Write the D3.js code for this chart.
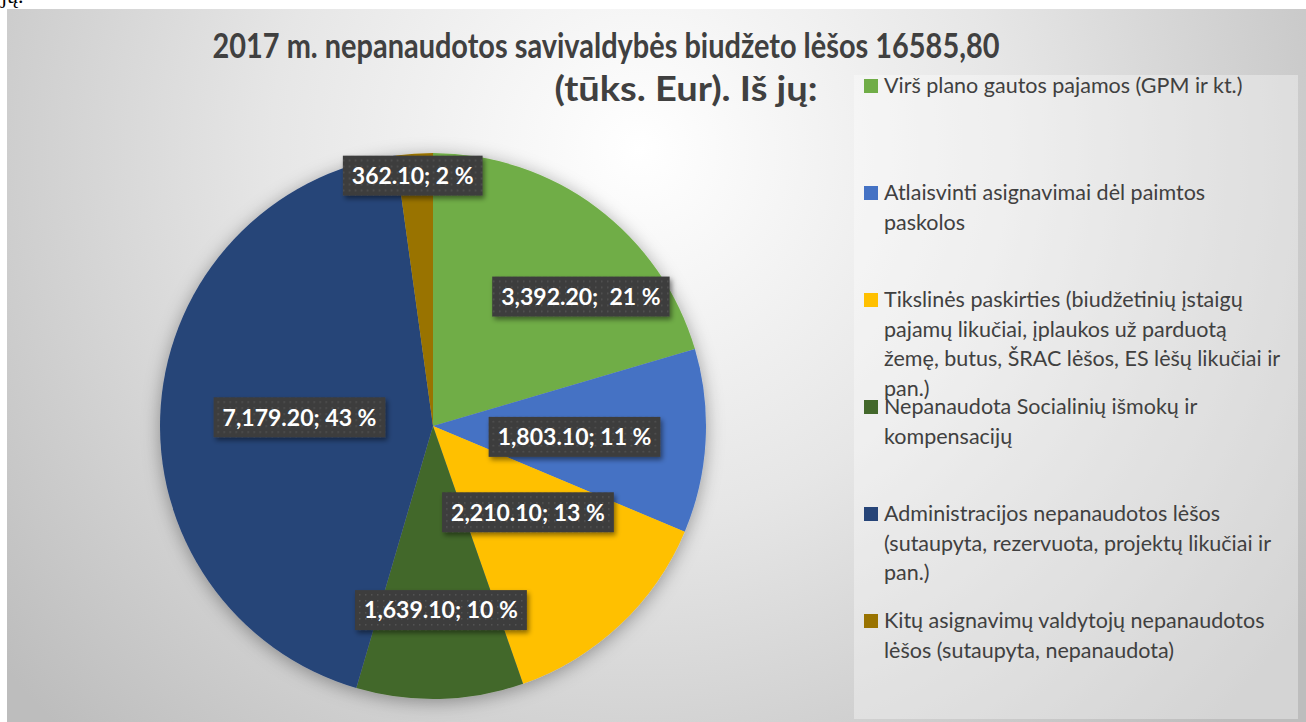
<!DOCTYPE html>
<html>
	<head>
		<script src="https://d3js.org/d3.v7.min.js"></script>
		<style>
			html, body {
				margin: 0;
				padding: 0;
				background: #fff;
				overflow: hidden;
			}
			text {
				font-family: Lato, "Open Sans", sans-serif;
			}
		</style>
		<title>2017 m. nepanaudotos lėšos</title>
	</head>
	<body>
		<div id="chart"></div>
		<script>
			// data
			const categories = [
				"Virš plano gautos pajamos (GPM ir kt.)",
				"Atlaisvinti asignavimai dėl paimtos paskolos",
				"Tikslinės paskirties (biudžetinių įstaigų pajamų likučiai, įplaukos už parduotą žemę, butus, ŠRAC lėšos, ES lėšų likučiai ir pan.)",
				"Nepanaudota Socialinių išmokų ir kompensacijų",
				"Administracijos nepanaudotos lėšos (sutaupyta, rezervuota, projektų likučiai ir pan.)",
				"Kitų asignavimų valdytojų nepanaudotos lėšos (sutaupyta, nepanaudota)",
			];
			const values = [3392.2, 1803.1, 2210.1, 1639.1, 7179.2, 362.1];
			// labels exactly as printed on the chart (the 21 % one was edited by hand)
			const dataLabels = [
				"3,392.20;  21 %",
				"1,803.10; 11 %",
				"2,210.10; 13 %",
				"1,639.10; 10 %",
				"7,179.20; 43 %",
				"362.10; 2 %",
			];
			// legend text as wrapped in the picture
			const legendLines = [
				["Virš plano gautos pajamos (GPM ir kt.)"],
				["Atlaisvinti asignavimai dėl paimtos", "paskolos"],
				["Tikslinės paskirties (biudžetinių įstaigų", "pajamų likučiai, įplaukos už parduotą", "žemę, butus, ŠRAC lėšos, ES lėšų likučiai ir", "pan.)"],
				["Nepanaudota Socialinių išmokų ir", "kompensacijų"],
				["Administracijos nepanaudotos lėšos", "(sutaupyta, rezervuota, projektų likučiai ir", "pan.)"],
				["Kitų asignavimų valdytojų nepanaudotos", "lėšos (sutaupyta, nepanaudota)"],
			];
			const titleLines = ["2017 m. nepanaudotos savivaldybės biudžeto lėšos 16585,80", "(tūks. Eur). Iš jų:"];
			const colors = ["#70AD47", "#4472C4", "#FFC000", "#43682B", "#264478", "#997300"];

			// layout
			const width = 1306,
				height = 722,
				cx = 433,
				cy = 426,
				radius = 273;
			// label placement: fraction of radius and angle nudge (deg) from slice middle
			const labelRadius = [0.72, 0.52, 0.47, 0.675, 0.49, 0.92];
			const labelNudge = [12, 1.2, -4.5, -1, -0.5, -0.7];

			const svg = d3.select("#chart")
				.append("svg")
				.attr("width", width)
				.attr("height", height);

			const defs = svg.append("defs");

			const bg = defs.append("radialGradient")
				.attr("id", "bg")
				.attr("gradientUnits", "userSpaceOnUse")
				.attr("cx", 640).attr("cy", 150).attr("r", 820);
			bg.append("stop").attr("offset", "0").attr("stop-color", "#ffffff");
			bg.append("stop").attr("offset", "0.45").attr("stop-color", "#e6e6e6");
			bg.append("stop").attr("offset", "1").attr("stop-color", "#bdbdbd");

			const shadow = defs.append("filter")
				.attr("id", "pieShadow")
				.attr("x", "-20%").attr("y", "-20%")
				.attr("width", "140%").attr("height", "140%");
			shadow.append("feDropShadow")
				.attr("dx", 0).attr("dy", 3)
				.attr("stdDeviation", 9)
				.attr("flood-color", "#000")
				.attr("flood-opacity", 0.35);

			const boxShadow = defs.append("filter")
				.attr("id", "boxShadow")
				.attr("x", "-20%").attr("y", "-30%")
				.attr("width", "140%").attr("height", "170%");
			boxShadow.append("feDropShadow")
				.attr("dx", 2).attr("dy", 3)
				.attr("stdDeviation", 2.5)
				.attr("flood-color", "#000")
				.attr("flood-opacity", 0.45);

			// dotted fill of the data label boxes
			const dots = defs.append("pattern")
				.attr("id", "dots")
				.attr("patternUnits", "userSpaceOnUse")
				.attr("width", 6).attr("height", 6);
			dots.append("rect").attr("width", 6).attr("height", 6).attr("fill", "#3d3d3d");
			dots.append("rect").attr("x", 2).attr("y", 2).attr("width", 1.5).attr("height", 1.5).attr("fill", "#555");

			// text above the chart, cut by the chart frame
			svg.append("text")
				.attr("x", 1).attr("y", 3)
				.style("font-family", "'Liberation Serif', serif")
				.style("font-size", "22px")
				.attr("fill", "#000")
				.text("jų.");

			// chart area
			svg.append("rect")
				.attr("x", 7).attr("y", 9)
				.attr("width", width - 7).attr("height", height - 9)
				.attr("fill", "url(#bg)");

			// title
			svg.selectAll("text.title")
				.data(titleLines)
				.join("text")
				.attr("class", "title")
				.attr("x", (d, i) => [606, 686][i])
				.attr("y", (d, i) => 58 + i * 43)
				.attr("text-anchor", "middle")
				.attr("textLength", (d, i) => [787, 263][i])
				.attr("lengthAdjust", "spacingAndGlyphs")
				.attr("fill", "#404040")
				.style("font-size", "34px")
				.style("font-weight", "bold")
				.text((d) => d);

			// pie
			const pie = d3.pie().sort(null).value((d) => d);
			const arcs = pie(values);
			const arc = d3.arc().innerRadius(0).outerRadius(radius);

			const pieG = svg.append("g")
				.attr("transform", `translate(${cx},${cy})`);

			pieG.append("g")
				.attr("filter", "url(#pieShadow)")
				.selectAll("path")
				.data(arcs)
				.join("path")
				.attr("d", arc)
				.attr("fill", (d, i) => colors[i]);

			// data labels
			const labels = pieG.selectAll("g.label")
				.data(arcs)
				.join("g")
				.attr("class", "label")
				.attr("transform", (d, i) => {
					const a = (d.startAngle + d.endAngle) / 2 + (labelNudge[i] * Math.PI) / 180;
					const r = radius * labelRadius[i];
					const p = d3.arc().innerRadius(r).outerRadius(r).startAngle(a).endAngle(a).centroid();
					return `translate(${p[0]},${p[1]})`;
				});

			labels.append("text")
				.attr("text-anchor", "middle")
				.attr("dy", "0.36em")
				.attr("fill", "#fff")
				.style("font-size", "23px")
				.style("font-weight", "bold")
				.style("white-space", "pre")
				.attr("xml:space", "preserve")
				.text((d, i) => dataLabels[i]);

			labels.each(function () {
				const g = d3.select(this);
				const w = g.select("text").node().getComputedTextLength() + 18;
				g.insert("rect", "text")
					.attr("x", -w / 2).attr("y", -20)
					.attr("width", w).attr("height", 40)
					.attr("fill", "url(#dots)")
					.attr("filter", "url(#boxShadow)");
			});

			// legend
			svg.append("rect")
				.attr("x", 854).attr("y", 75)
				.attr("width", 444).attr("height", 644)
				.attr("fill", "#fff")
				.attr("fill-opacity", 0.35);

			const legendY = d3.scalePoint()
				.domain(categories)
				.range([93, 628]);

			const items = svg.selectAll("g.legend")
				.data(categories)
				.join("g")
				.attr("class", "legend")
				.attr("transform", (d) => `translate(864,${legendY(d)})`);

			items.append("rect")
				.attr("x", 0).attr("y", -14)
				.attr("width", 14).attr("height", 14)
				.attr("fill", (d, i) => colors[i]);

			items.append("text")
				.attr("fill", "#404040")
				.style("font-size", "21.5px")
				.selectAll("tspan")
				.data((d, i) => legendLines[i])
				.join("tspan")
				.attr("x", 20)
				.attr("y", (d, j) => j * 29.5)
				.text((d) => d);
		</script>
	</body>
</html>
